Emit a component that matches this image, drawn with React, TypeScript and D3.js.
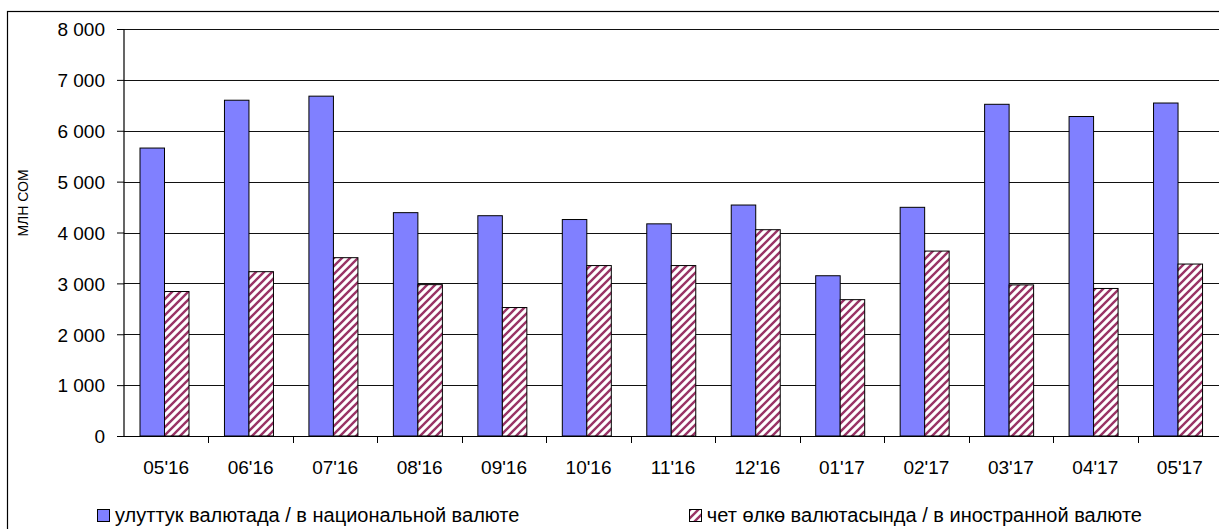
import React, { useEffect, useRef } from "react";
import * as d3 from "d3";

const categories = ["05'16", "06'16", "07'16", "08'16", "09'16", "10'16", "11'16", "12'16", "01'17", "02'17", "03'17", "04'17", "05'17"];
const nationalValues = [5660, 6600, 6680, 4390, 4330, 4255, 4170, 4540, 3150, 4495, 6520, 6280, 6545];
const foreignValues = [2840, 3230, 3505, 2975, 2525, 3350, 3350, 4055, 2680, 3635, 2970, 2900, 3380];
const yTicks = [0, 1000, 2000, 3000, 4000, 5000, 6000, 7000, 8000];
const seriesNames = ["улуттук валютада / в национальной валюте", "чет өлкө валютасында / в иностранной валюте"];
const yTitle = "МЛН СОМ";

const W = 1219;
const H = 529;
const FONT = "'Liberation Sans', Arial, sans-serif";
const FS = 19;
const LFS = 20;

export default function App() {
  const ref = useRef<SVGSVGElement | null>(null);

  useEffect(() => {
    const svg = d3.select(ref.current);
    svg.selectAll("*").remove();

    const defs = svg.append("defs");
    const pat = defs.append("pattern")
      .attr("id", "hatch")
      .attr("patternUnits", "userSpaceOnUse")
      .attr("width", 8)
      .attr("height", 8);
    pat.append("rect").attr("width", 8).attr("height", 8).attr("fill", "#fff");
    pat.append("path")
      .attr("d", "M-2,2 L2,-2 M0,8 L8,0 M6,10 L10,6")
      .attr("stroke", "#993366")
      .attr("stroke-width", 2.4);

    // outer frame
    svg.append("rect")
      .attr("x", 7.5).attr("y", 11.5)
      .attr("width", 1300).attr("height", 600)
      .attr("fill", "#fff").attr("stroke", "#000").attr("stroke-width", 1.2);

    const x = d3.scaleBand<string>().domain(categories).range([124, 1222]);
    const y = d3.scaleLinear().domain([0, 8000]).range([436, 29]);
    const sub = d3.scaleBand<number>().domain([0, 1]).range([16, 65]);

    // gridlines
    svg.append("g").selectAll("line").data(yTicks.filter(t => t > 0)).join("line")
      .attr("x1", 124).attr("x2", W)
      .attr("y1", d => Math.round(y(d)) + 0.5).attr("y2", d => Math.round(y(d)) + 0.5)
      .attr("stroke", "#111").attr("stroke-width", 1);

    // bars
    const series = [nationalValues, foreignValues];
    const fills = ["#8080FF", "url(#hatch)"];
    series.forEach((vals, si) => {
      svg.append("g").selectAll("rect").data(vals).join("rect")
        .attr("x", (d, i) => (x(categories[i]) as number) + (sub(si) as number))
        .attr("y", d => y(d))
        .attr("width", sub.bandwidth())
        .attr("height", d => y(0) - y(d))
        .attr("fill", fills[si])
        .attr("stroke", "#000")
        .attr("stroke-width", 1);
    });

    // y axis
    const yAxis = d3.axisLeft(y).tickValues(yTicks).tickSize(7).tickPadding(12)
      .tickFormat(d => d3.format(",")(d as number).replace(/,/g, " "));
    const gy = svg.append("g").attr("transform", "translate(124,0)").call(yAxis);
    gy.select(".domain").attr("d", "M-7,436.5H0V29").attr("stroke", "#000").attr("stroke-width", 1.2);
    gy.selectAll(".tick line").attr("stroke", "#000");
    gy.selectAll(".tick text")
      .attr("font-family", FONT).attr("font-size", FS).attr("fill", "#000")
      .attr("dy", "0.36em");

    // x axis
    svg.append("line").attr("x1", 124).attr("x2", W).attr("y1", 436.5).attr("y2", 436.5)
      .attr("stroke", "#000").attr("stroke-width", 1.2);
    svg.append("g").selectAll("line").data(categories.slice(1)).join("line")
      .attr("x1", d => Math.round(x(d) as number) + 0.5)
      .attr("x2", d => Math.round(x(d) as number) + 0.5)
      .attr("y1", 436).attr("y2", 443)
      .attr("stroke", "#000");
    svg.append("g").selectAll("text").data(categories).join("text")
      .attr("x", d => (x(d) as number) + x.bandwidth() / 2)
      .attr("y", 474)
      .attr("text-anchor", "middle")
      .attr("font-family", FONT).attr("font-size", FS).attr("fill", "#000")
      .text(d => d);

    // y title
    svg.append("text")
      .attr("transform", "translate(28,203) rotate(-90)")
      .attr("text-anchor", "middle")
      .attr("font-family", FONT).attr("font-size", 14).attr("fill", "#000")
      .text(yTitle);

    // legend
    svg.append("text")
      .attr("x", 115).attr("y", 522)
      .attr("font-family", FONT).attr("font-size", LFS).attr("fill", "#000")
      .text(seriesNames[0]);
    svg.append("rect")
      .attr("x", 97.5).attr("y", 509.5)
      .attr("width", 12).attr("height", 12)
      .attr("fill", fills[0]).attr("stroke", "#000").attr("stroke-width", 1);
    const t2 = svg.append("text")
      .attr("x", 1142).attr("y", 522)
      .attr("text-anchor", "end")
      .attr("font-family", FONT).attr("font-size", LFS).attr("fill", "#000")
      .text(seriesNames[1]);
    const len2 = (t2.node() as SVGTextElement).getComputedTextLength();
    svg.append("rect")
      .attr("x", Math.round(1142 - len2 - 18) + 0.5).attr("y", 509.5)
      .attr("width", 12).attr("height", 12)
      .attr("fill", fills[1]).attr("stroke", "#000").attr("stroke-width", 1);
  }, []);

  return (
    <svg
      ref={ref}
      width={W}
      height={H}
      style={{ position: "absolute", left: 0, top: 0, background: "#fff" }}
    />
  );
}
